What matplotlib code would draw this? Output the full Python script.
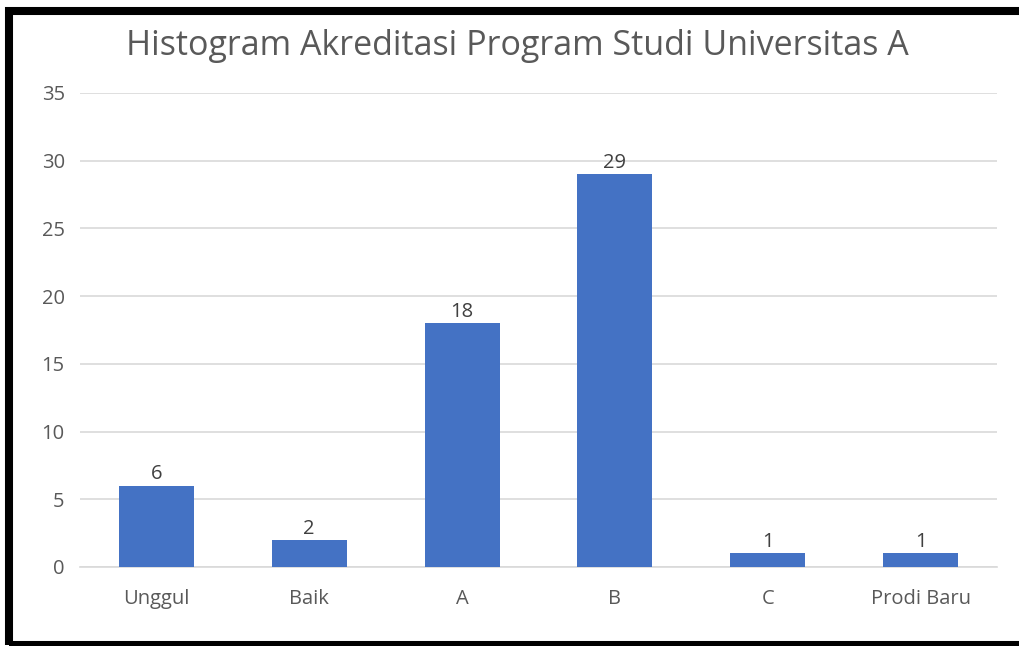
import matplotlib
matplotlib.use("Agg")
import matplotlib.pyplot as plt
from matplotlib.patches import Rectangle

categories = ["Unggul", "Baik", "A", "B", "C", "Prodi Baru"]
values = [6, 2, 18, 29, 1, 1]
y_ticks = [0, 5, 10, 15, 20, 25, 30, 35]

plt.rcParams['font.family'] = ['Open Sans', 'DejaVu Sans']
text_gray = '#595959'

fig = plt.figure(figsize=(10.2, 6.46), dpi=100)
ax = fig.add_axes([80 / 1020, 1 - 567 / 646, 917 / 1020, 474 / 646])

x = range(len(categories))
bars = ax.bar(x, values, width=0.49, color='#4472C4', zorder=3)
for b, v in zip(bars, values):
    ax.text(b.get_x() + b.get_width() / 2, v + 0.1, str(v), ha='center', va='bottom',
            fontsize=14.5, color='#404040')

ax.set_xlim(-0.5, len(categories) - 0.5)
ax.set_ylim(0, 35)
ax.set_yticks(y_ticks)
ax.set_xticks(list(x))
ax.set_xticklabels(categories)
ax.grid(axis='y', color='#D9D9D9', linewidth=1.2, zorder=0)
for s in ['top', 'right', 'left']:
    ax.spines[s].set_visible(False)
ax.spines['bottom'].set_color('#D9D9D9')
ax.spines['bottom'].set_linewidth(1.2)
ax.tick_params(axis='both', length=0, labelsize=14.5, colors=text_gray)
ax.tick_params(axis='y', pad=11)
ax.tick_params(axis='x', pad=16)

fig.text(517 / 1020, 1 - 46 / 646, "Histogram Akreditasi Program Studi Universitas A",
         ha='center', va='center', fontsize=24.5, color=text_gray)

# thick black frame, right edge falls outside the picture
fig.patches.append(Rectangle((9 / 1020, 1 / 646), 1040 / 1020, 634 / 646,
                             transform=fig.transFigure, fill=False,
                             edgecolor='black', linewidth=5.8))

fig.savefig("out.png", dpi=100)
